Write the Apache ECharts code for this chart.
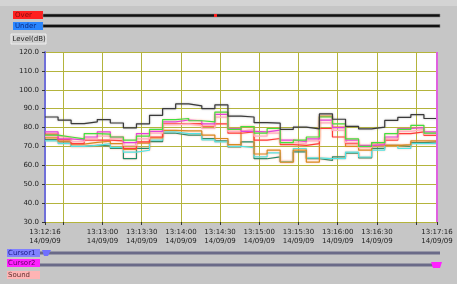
<!DOCTYPE html>
<html><head><meta charset="utf-8">
<script src="https://cdn.jsdelivr.net/npm/echarts@6/dist/echarts.min.js"></script>
<style>html,body{margin:0;padding:0;background:#c6c6c6;}#c{width:457px;height:284px;}</style>
</head><body><div id="c"></div>
<script>
// seconds since 13:12:00; first sample at 13:12:16, one step every 10 s
const startSec = 16;
const stepSec = 10;
const tickLabels = [16, 60, 90, 120, 150, 180, 210, 240, 270, 316];
const gridTicks = [16, 30, 60, 90, 120, 150, 180, 210, 240, 270, 300, 316];
const black   = [85.6, 83.9, 82.1, 83.0, 84.2, 82.4, 79.8, 82.0, 86.5, 90.0, 92.5, 91.5, 90.0, 92.0, 86.0, 85.6, 82.6, 82.3, 79.0, 80.2, 79.3, 87.2, 84.4, 80.6, 79.3, 80.2, 83.8, 85.4, 86.8, 84.8];
const green   = [76.0, 75.0, 74.0, 76.8, 76.5, 75.0, 73.3, 75.5, 79.0, 84.2, 84.8, 83.6, 83.0, 88.2, 79.0, 80.5, 77.0, 79.5, 72.0, 73.3, 75.0, 85.6, 82.0, 74.0, 70.0, 72.0, 76.8, 79.0, 81.2, 77.0];
const magenta = [77.7, 74.0, 73.5, 75.0, 77.7, 75.0, 72.0, 76.8, 78.0, 83.0, 84.0, 83.6, 82.0, 87.0, 79.5, 78.0, 77.7, 78.6, 73.3, 72.5, 74.0, 83.9, 80.0, 73.3, 70.6, 71.0, 75.0, 79.5, 80.0, 77.7];
const pink    = [75.5, 74.5, 72.5, 74.0, 75.5, 74.0, 70.5, 74.0, 77.0, 81.5, 81.8, 81.0, 79.5, 85.5, 78.0, 79.0, 75.5, 77.0, 72.0, 71.5, 73.0, 82.5, 78.5, 72.0, 69.5, 71.0, 74.0, 78.0, 79.0, 76.5];
const red     = [76.5, 73.6, 71.5, 73.3, 73.3, 73.0, 69.0, 72.4, 75.0, 82.0, 82.0, 82.1, 80.7, 82.0, 77.0, 77.7, 73.3, 74.2, 71.0, 70.6, 71.5, 79.5, 75.0, 71.5, 69.5, 72.0, 73.3, 76.8, 77.7, 75.9];
const orange  = [74.5, 72.8, 71.2, 72.2, 72.8, 71.5, 68.5, 71.8, 74.5, 78.5, 78.2, 78.2, 76.0, 74.2, 71.0, 80.5, 66.0, 68.0, 61.7, 68.0, 61.7, 86.0, 80.3, 70.0, 68.0, 70.6, 70.6, 71.0, 73.0, 73.0];
const cyan    = [73.0, 71.5, 70.0, 70.6, 71.5, 69.5, 67.0, 68.0, 73.3, 77.7, 76.8, 76.8, 73.5, 72.4, 70.0, 69.4, 64.5, 66.6, 62.0, 68.9, 64.0, 63.5, 63.5, 67.0, 64.4, 68.0, 70.5, 69.0, 71.5, 71.5];
const teal    = [73.6, 72.4, 70.0, 70.6, 70.3, 69.0, 63.5, 69.0, 72.5, 77.0, 76.0, 76.0, 74.2, 73.0, 69.7, 72.4, 63.5, 64.5, 62.0, 67.1, 63.5, 62.6, 64.5, 66.5, 64.0, 69.0, 70.6, 70.0, 72.0, 72.4];

function pts(arr){
  const d = arr.map((v,i)=>[startSec + i*stepSec, v]);
  d.push([startSec + arr.length*stepSec, arr[arr.length-1]]);
  return d;
}
function fmt(s){
  const m = 12 + Math.floor(s/60), sec = s % 60;
  return '13:' + String(m).padStart(2,'0') + ':' + String(sec).padStart(2,'0') + '\n14/09/09';
}
const seriesDefs = [
  ['teal', teal, '#1f8a6a'],
  ['cyan', cyan, '#4fe6e6'],
  ['orange', orange, '#d88a20'],
  ['red', red, '#ff3a3a'],
  ['pink', pink, '#ffb0c8'],
  ['magenta', magenta, '#e040e0'],
  ['green', green, '#40e040'],
  ['black', black, '#3a3a3a']
];
const chart = echarts.init(document.getElementById('c'), null, {renderer:'canvas'});
const lbl = {fontFamily:'DejaVu Sans', fontSize:7, color:'#222'};
chart.setOption({
  animation:false,
  backgroundColor:'#c6c6c6',
  grid:{left:45, right:20, top:52, height:170, show:true, backgroundColor:'#ffffff', borderWidth:0},
  xAxis:{type:'value', min:16, max:316,
    axisLine:{show:true, lineStyle:{color:'#b4b43c', width:1}},
    axisTick:{show:true, length:3, lineStyle:{color:'#333'}, customValues:gridTicks},
    axisLabel:Object.assign({customValues:tickLabels, formatter:fmt, margin:6, lineHeight:9, showMinLabel:true, showMaxLabel:true}, lbl),
    splitLine:{show:true, lineStyle:{color:'#b4b43c', width:1}}
  },
  yAxis:{type:'value', min:30, max:120, interval:10,
    axisLine:{show:true, lineStyle:{color:'#7070d8', width:2}},
    axisTick:{show:true, length:3, lineStyle:{color:'#333'}},
    axisLabel:Object.assign({formatter:v=>v.toFixed(1), margin:6}, lbl),
    splitLine:{show:true, lineStyle:{color:'#b4b43c', width:1}}
  },
  series: seriesDefs.map(([n,arr,c],k)=>({
    name:n, type:'line', step:'end', data:pts(arr), symbol:'none',
    lineStyle:{color:c, width:1.2, shadowColor: n==='black' ? 'rgba(120,120,120,0.6)' : 'rgba(255,150,110,0.6)', shadowBlur:2},
    markLine: k===seriesDefs.length-1 ? {silent:true, symbol:'none', label:{show:false},
      lineStyle:{color:'#e060e0', type:'solid', width:2, shadowBlur:0}, data:[{xAxis:316}]} : undefined
  })),
  graphic:[
    {type:'rect', shape:{x:0,y:0,width:457,height:6}, style:{fill:'#d4d4d4'}},
    {type:'rect', shape:{x:13,y:11,width:30,height:8}, style:{fill:'#ff2020'}},
    {type:'text', x:15, y:11.5, style:{text:'Over', fontSize:7, fontFamily:'DejaVu Sans', fill:'#801010'}},
    {type:'rect', shape:{x:43,y:14,width:397,height:3}, style:{fill:'#111', stroke:'#888', lineWidth:0.6}},
    {type:'rect', shape:{x:214,y:14,width:3,height:3}, style:{fill:'#ff2020'}},
    {type:'rect', shape:{x:13,y:22,width:30,height:8}, style:{fill:'#2a86ff'}},
    {type:'text', x:15, y:22.5, style:{text:'Under', fontSize:7, fontFamily:'DejaVu Sans', fill:'#0a2a80'}},
    {type:'rect', shape:{x:43,y:24.5,width:397,height:3}, style:{fill:'#111', stroke:'#888', lineWidth:0.6}},
    {type:'rect', shape:{x:11,y:34,width:35,height:10}, style:{fill:'#d0d0d0', stroke:'#eeeeee', lineWidth:1}},
    {type:'text', x:12.5, y:35.5, style:{text:'Level(dB)', fontSize:7, fontFamily:'DejaVu Sans', fill:'#222'}},
    {type:'rect', shape:{x:7,y:249,width:33,height:8}, style:{fill:'#8080ff'}},
    {type:'text', x:8, y:249.5, style:{text:'Cursor1', fontSize:7, fontFamily:'DejaVu Sans', fill:'#1a1a80'}},
    {type:'rect', shape:{x:40,y:251.5,width:400,height:3}, style:{fill:'#6a6a88'}},
    {type:'polygon', shape:{points:[[42,250],[51,250],[48,256],[44,256]]}, style:{fill:'#7070ff'}},
    {type:'rect', shape:{x:7,y:259,width:33,height:8}, style:{fill:'#ff20ff'}},
    {type:'text', x:8, y:259.5, style:{text:'Cursor2', fontSize:7, fontFamily:'DejaVu Sans', fill:'#600060'}},
    {type:'rect', shape:{x:40,y:263.5,width:400,height:3}, style:{fill:'#6a6a88'}},
    {type:'polygon', shape:{points:[[431,262],[442,262],[440,268],[433,268]]}, style:{fill:'#ff20ff'}},
    {type:'rect', shape:{x:7,y:271,width:33,height:8}, style:{fill:'#ffb4b4'}},
    {type:'text', x:8, y:271.5, style:{text:'Sound', fontSize:7, fontFamily:'DejaVu Sans', fill:'#603030'}}
  ]
});
</script></body></html>
